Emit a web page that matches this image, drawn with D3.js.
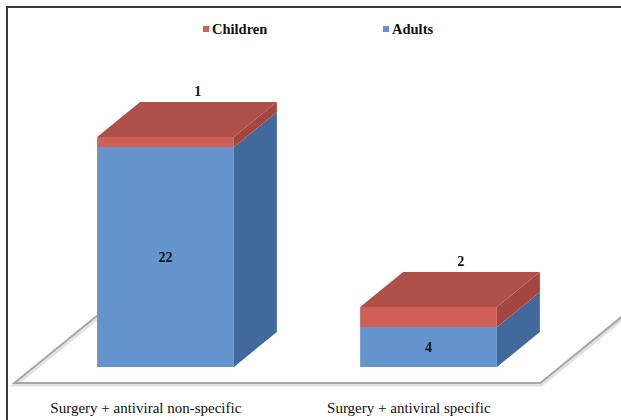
<!DOCTYPE html>
<html>
<head>
<meta charset="utf-8">
<script src="https://cdn.jsdelivr.net/npm/d3@7"></script>
<style>
  html, body { margin: 0; padding: 0; background: #ffffff; }
  svg { display: block; }
  text { font-family: "Liberation Serif", "Times New Roman", serif; fill: #111; }
</style>
</head>
<body>
<svg id="chart" width="621" height="420"></svg>
<script>
// Patients per treatment group, split into adults and children
const categories = ["Surgery + antiviral non-specific", "Surgery + antiviral specific"];
const adults = [22, 4];
const children = [1, 2];
const seriesNames = ["Adults", "Children"];
const legendOrder = ["Children", "Adults"];

const W = 621, H = 420;
const svg = d3.select("#chart");

const rows = categories.map((c, i) => ({ category: c, Adults: adults[i], Children: children[i] }));
const stacked = d3.stack().keys(seriesNames)(rows);

const x = d3.scaleBand().domain(categories).range([34, 560]).paddingInner(0.48).paddingOuter(0.24);
const y = d3.scaleLinear().domain([0, 25]).range([367, 117]);

// 3-D depth of each block and the floor margin around it
const dx = 43, dy = -35;
const floorGap = 16;
const gx = floorGap * dx / -dy;

const colors = {
  Adults:   { front: "#6594cc", side: "#41699b", top: "#5a86bd" },
  Children: { front: "#cf6058", side: "#a3463f", top: "#ae4f48" }
};

svg.append("rect").attr("width", W).attr("height", H).attr("fill", "#fefefe");

// Chart frame
svg.append("path")
  .attr("d", `M7,${H} L7,7 L${W},7`)
  .attr("fill", "none").attr("stroke", "#3a3a3a").attr("stroke-width", 2);

// Floor outline
const fy = y(0) + floorGap;
const fx0 = x.range()[0] - gx, fx1 = x.range()[1] - gx;
const fdx = dx + 2 * gx, fdy = dy - 2 * floorGap;
const floor = svg.append("g").attr("fill", "none").attr("stroke-linecap", "round");
floor.append("path")
  .attr("d", `M${fx0 + fdx},${fy + fdy} L${fx0},${fy} L${fx1},${fy} L${fx1 + fdx},${fy + fdy}`)
  .attr("stroke", "#e2e2e2").attr("stroke-width", 4).attr("transform", "translate(1,1.5)");
floor.append("path")
  .attr("d", `M${fx0 + fdx},${fy + fdy} L${fx0},${fy} L${fx1},${fy} L${fx1 + fdx},${fy + fdy}`)
  .attr("stroke", "#a8a8a8").attr("stroke-width", 2);

// Blocks
const bw = x.bandwidth();
const bars = svg.append("g");
categories.forEach((c, i) => {
  const g = bars.append("g");
  const x0 = x(c), x1 = x0 + bw;
  stacked.forEach(layer => {
    const [v0, v1] = layer[i];
    const yb = y(v0), yt = y(v1);
    const col = colors[layer.key];
    g.append("path")
      .attr("d", `M${x1},${yb} L${x1 + dx},${yb + dy} L${x1 + dx},${yt + dy} L${x1},${yt} Z`)
      .attr("fill", col.side);
    g.append("rect")
      .attr("x", x0).attr("y", yt).attr("width", bw).attr("height", yb - yt)
      .attr("fill", col.front);
  });
  const topLayer = stacked[stacked.length - 1];
  const yt = y(topLayer[i][1]);
  g.append("path")
    .attr("d", `M${x0},${yt} L${x1},${yt} L${x1 + dx},${yt + dy} L${x0 + dx},${yt + dy} Z`)
    .attr("fill", colors[topLayer.key].top);

  // Value labels
  const ya = stacked[0][i];
  g.append("text")
    .attr("x", x0 + bw / 2).attr("y", (y(ya[0]) + y(ya[1])) / 2 + 5)
    .attr("text-anchor", "middle").attr("font-size", 14).attr("font-weight", "bold")
    .text(adults[i]);
  g.append("text")
    .attr("x", x0 + bw / 2 + 0.75 * dx).attr("y", yt + dy - 6)
    .attr("text-anchor", "middle").attr("font-size", 14).attr("font-weight", "bold")
    .text(children[i]);

  // Category label along the front of the floor
  svg.append("text")
    .attr("x", x0 + bw / 2 - gx).attr("y", 413)
    .attr("text-anchor", "middle").attr("font-size", 15)
    .text(c);
});

// Legend
const legendX = d3.scalePoint().domain(legendOrder).range([203, 383]);
const legend = svg.append("g");
legendOrder.forEach(name => {
  const lx = legendX(name);
  legend.append("rect").attr("x", lx).attr("y", 26).attr("width", 6).attr("height", 6)
    .attr("fill", colors[name].front);
  legend.append("text").attr("x", lx + 9).attr("y", 34)
    .attr("font-size", 14.5).attr("font-weight", "bold").text(name);
});
</script>
</body>
</html>
